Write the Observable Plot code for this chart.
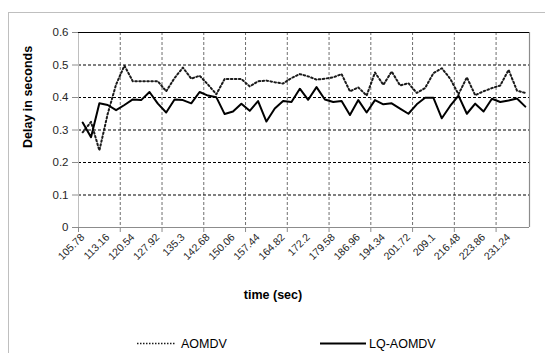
<!DOCTYPE html>
<html><head><meta charset="utf-8">
<script src="https://cdn.jsdelivr.net/npm/d3@7"></script>
<script src="https://cdn.jsdelivr.net/npm/@observablehq/plot@0.6"></script>
<style>
body{margin:0;background:#fff}
#chart{position:relative;width:545px;height:353px;overflow:hidden;background:#fff}
</style>
</head><body><div id="chart"></div>
<script>
// Categories: time (sec)
const times = ["105.78","108.24","110.7","113.16","115.62","118.08","120.54","123","125.46","127.92",
  "130.38","132.84","135.3","137.76","140.22","142.68","145.14","147.6","150.06","152.52",
  "154.98","157.44","159.9","162.36","164.82","167.28","169.74","172.2","174.66","177.12",
  "179.58","182.04","184.5","186.96","189.42","191.88","194.34","196.8","199.26","201.72",
  "204.18","206.64","209.1","211.56","214.02","216.48","218.94","221.4","223.86","226.32",
  "228.78","231.24","233.7","236.16"];
// Series: AOMDV (dotted)
const aomdv = [0.293,0.325,0.237,0.35,0.44,0.498,0.45,0.45,0.45,0.45,
  0.419,0.46,0.492,0.458,0.467,0.44,0.41,0.457,0.457,0.457,
  0.434,0.45,0.452,0.447,0.443,0.46,0.472,0.465,0.455,0.458,
  0.462,0.472,0.419,0.431,0.406,0.477,0.439,0.48,0.437,0.444,
  0.414,0.429,0.475,0.49,0.458,0.41,0.462,0.407,0.419,0.429,
  0.437,0.485,0.421,0.414];
// Series: LQ-AOMDV (solid)
const lqAomdv = [0.323,0.278,0.382,0.377,0.361,0.377,0.394,0.392,0.417,0.381,
  0.354,0.394,0.392,0.382,0.417,0.406,0.401,0.349,0.357,0.381,
  0.359,0.389,0.326,0.366,0.389,0.386,0.427,0.393,0.432,0.394,
  0.386,0.389,0.346,0.392,0.354,0.392,0.379,0.382,0.366,0.350,
  0.379,0.399,0.399,0.336,0.374,0.406,0.350,0.381,0.357,0.396,
  0.386,0.391,0.397,0.372];
const yTicks = [0,0.1,0.2,0.3,0.4,0.5,0.6];
const yTickLabels = ["0","0.1","0.2","0.3","0.4","0.5","0.6"];
const seriesNames = ["AOMDV","LQ-AOMDV"];

const data = times.map((t,i)=>({i, t, aomdv: aomdv[i], lq: lqAomdv[i]}));
const labelIdx = times.map((t,i)=>i).filter(i=>i%3===0);
const boundaries = d3.range(-0.5, times.length - 1, 5);   // category-axis tick marks every 5 categories
const gridX = boundaries.slice(1);
const font = "'Liberation Sans', Arial, sans-serif";

const plot = Plot.plot({
  width:545, height:353,
  marginLeft:78, marginRight:16, marginTop:32, marginBottom:126,
  style:{fontFamily:font, background:"#fff", color:"#262626", overflow:"visible"},
  x:{type:"linear", domain:[-0.5, times.length-0.5]},
  y:{domain:[0,0.6]},
  marks:[
    Plot.ruleX(gridX, {stroke:"#6f6f6f", strokeDasharray:"3,2"}),
    Plot.ruleY(yTicks.filter(v=>v>0 && v<0.6), {stroke:"#000", strokeDasharray:"3,2"}),
    Plot.ruleX([times.length-0.5], {stroke:"#8c8c8c", strokeWidth:1.2}),
    Plot.ruleX([-0.5], {stroke:"#bfbfbf"}),
    Plot.ruleY([0], {stroke:"#8c8c8c"}),
    Plot.ruleY([0.6], {stroke:"#000"}),
    Plot.axisY({ticks:yTicks, tickSize:6, tickPadding:4, stroke:"#8c8c8c", fill:"#262626",
      tickFormat:(d)=>yTickLabels[yTicks.indexOf(d)], fontSize:11.5, label:null}),
    Plot.axisX({ticks:boundaries, tickSize:5, stroke:"#8c8c8c", tickFormat:()=>"", label:null}),
    Plot.axisX({ticks:labelIdx, tickSize:0, tickPadding:8, tickRotate:-45, fill:"#262626",
      tickFormat:i=>times[i], fontSize:10.5, label:null}),
    Plot.line(data, {x:"i", y:"aomdv", stroke:"#1a1a1a", strokeWidth:2, strokeDasharray:"1.6,2.4"}),
    Plot.line(data, {x:"i", y:"lq", stroke:"#000", strokeWidth:2}),
    Plot.text(["Delay in seconds"], {frameAnchor:"left", dx:-51, dy:18, rotate:-90,
      fontWeight:"bold", fontSize:12.5, fill:"#000"}),
    Plot.text(["time (sec)"], {frameAnchor:"bottom", dx:-31, dy:71, fontWeight:"bold", fontSize:12.5, fill:"#000"})
  ]
});

const svg = d3.select(plot);
// outer chart-area border
svg.insert("rect", ":first-child").attr("x",8.5).attr("y",12.5).attr("width",560).attr("height",400)
  .attr("fill","none").attr("stroke","#bfbfbf");
// legend
const lg = svg.append("g").attr("font-family", font).attr("font-size", 12.5).attr("fill","#000")
  .attr("text-anchor","start");
lg.append("line").attr("x1",137).attr("x2",175).attr("y1",343.5).attr("y2",343.5)
  .attr("stroke","#1a1a1a").attr("stroke-width",1.5).attr("stroke-dasharray","1.5,1.5");
lg.append("text").attr("x",181).attr("y",348).text(seriesNames[0]);
lg.append("line").attr("x1",320).attr("x2",366).attr("y1",343.5).attr("y2",343.5)
  .attr("stroke","#000").attr("stroke-width",2);
lg.append("text").attr("x",369).attr("y",348).text(seriesNames[1]);

document.getElementById("chart").appendChild(plot);
</script>
</body></html>
